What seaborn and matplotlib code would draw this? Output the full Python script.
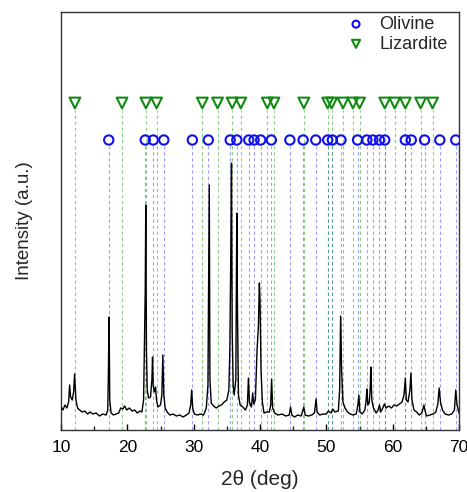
"""XRD pattern with Olivine / Lizardite reference positions."""

import matplotlib

matplotlib.use("Agg")
import matplotlib.pyplot as plt
import pandas as pd
import seaborn as sns
from matplotlib.ticker import MultipleLocator

sns.set_theme(style="ticks")
plt.rcParams["font.family"] = ["Liberation Sans", "DejaVu Sans"]

two_theta = [
    10.0, 10.3, 10.6, 10.9, 11.15, 11.3, 11.45, 11.7, 11.9, 12.05, 12.25, 12.5,
    12.8, 13.2, 13.6, 14.0, 14.4, 14.8, 15.3, 15.8, 16.3, 16.8, 17.05, 17.15,
    17.25, 17.35, 17.55, 17.9, 18.3, 18.7, 19.0, 19.3, 19.6, 19.9, 20.3, 20.7,
    21.1, 21.5, 21.9, 22.2, 22.45, 22.6, 22.7, 22.78, 22.88, 23.0, 23.2, 23.5,
    23.7, 23.8, 23.9, 24.05, 24.25, 24.4, 24.6, 25.0, 25.2, 25.35, 25.5, 25.7,
    26.0, 26.4, 26.9, 27.4, 27.9, 28.4, 28.9, 29.3, 29.55, 29.7, 29.85, 30.1,
    30.6, 31.0, 31.5, 31.9, 32.15, 32.25, 32.35, 32.45, 32.65, 33.0, 33.4, 33.8,
    34.2, 34.6, 35.0, 35.3, 35.45, 35.6, 35.7, 35.8, 35.95, 36.1, 36.35, 36.5,
    36.6, 36.75, 37.0, 37.4, 37.8, 38.1, 38.25, 38.4, 38.7, 38.9, 39.05, 39.3,
    39.55, 39.75, 39.9, 40.0, 40.15, 40.35, 40.6, 41.0, 41.4, 41.6, 41.75, 41.9,
    42.2, 42.7, 43.3, 43.9, 44.4, 44.6, 44.8, 45.2, 45.7, 46.2, 46.6, 46.8,
    47.3, 47.8, 48.2, 48.45, 48.6, 49.0, 49.5, 50.0, 50.3, 50.7, 50.95, 51.3,
    51.8, 52.0, 52.15, 52.3, 52.5, 52.8, 53.2, 53.6, 54.0, 54.5, 54.75, 54.9,
    55.05, 55.4, 55.8, 56.0, 56.1, 56.25, 56.45, 56.6, 56.7, 56.85, 57.1, 57.5,
    57.8, 58.0, 58.2, 58.5, 58.75, 59.0, 59.4, 59.8, 60.2, 60.6, 61.0, 61.4,
    61.7, 61.9, 62.05, 62.3, 62.6, 62.75, 62.9, 63.2, 63.6, 64.0, 64.4, 64.7,
    64.85, 65.1, 65.6, 66.1, 66.5, 66.8, 67.0, 67.2, 67.5, 67.9, 68.4, 68.9,
    69.3, 69.5, 69.7, 70.0,
]
intensity = [
    23, 20, 25, 22, 28, 45, 33, 30, 38, 56, 30, 22,
    20, 18, 19, 16, 18, 16, 17, 14, 16, 15, 20, 60,
    113, 30, 17, 15, 16, 17, 22, 21, 24, 20, 22, 19,
    20, 17, 19, 18, 30, 100, 140, 225, 80, 40, 32, 33,
    50, 73, 45, 38, 43, 30, 23, 25, 35, 75, 35, 22,
    18, 15, 16, 14, 15, 13, 15, 17, 25, 40, 22, 16,
    15, 16, 15, 22, 45, 140, 245, 50, 27, 24, 22, 24,
    25, 28, 30, 40, 80, 180, 267, 100, 45, 35, 50, 217,
    120, 35, 25, 23, 20, 25, 52, 28, 23, 37, 26, 30,
    80, 103, 147, 130, 60, 28, 17, 18, 18, 25, 51, 22,
    17, 15, 16, 14, 15, 23, 15, 13, 15, 14, 23, 15,
    14, 15, 17, 31, 18, 15, 16, 16, 19, 17, 21, 18,
    19, 40, 114, 60, 28, 22, 18, 16, 15, 16, 25, 35,
    18, 16, 20, 30, 41, 25, 27, 40, 63, 30, 22, 17,
    20, 25, 18, 22, 26, 22, 24, 22, 25, 24, 26, 28,
    35, 52, 30, 28, 40, 57, 30, 20, 18, 15, 17, 25,
    20, 14, 15, 16, 18, 26, 42, 28, 20, 16, 15, 16,
    20, 40, 25, 17,
]

# reference peak positions (2theta)
olivine_pos = [
    17.2, 22.7, 23.9, 25.5, 29.8, 32.2, 35.5, 36.5, 38.3, 39.1, 40.1, 41.7,
    44.5, 46.5, 48.4, 50.2, 50.9, 52.2, 54.7, 56.1, 57.0, 58.0, 58.8, 61.9,
    62.8, 64.8, 67.1, 69.5,
]
lizardite_pos = [
    12.1, 19.2, 22.8, 24.4, 31.3, 33.6, 35.8, 37.1, 41.1, 42.1, 46.6, 50.2,
    50.8, 52.5, 54.0, 55.0, 58.8, 60.3, 61.9, 64.2, 66.0,
]
olivine_level = 290
lizardite_level = 327

pattern = pd.DataFrame({"two_theta": two_theta, "intensity": intensity})

fig = plt.figure(figsize=(4.67, 4.92), dpi=100)
ax = fig.add_axes([0.1306, 0.126, 0.8524, 0.8496])

ax.vlines(olivine_pos, 0, olivine_level - 6, colors="#3a3aff", linestyles=(0, (3, 2.5)),
          linewidth=0.8, alpha=0.5, zorder=1)
ax.vlines(lizardite_pos, 0, lizardite_level - 7, colors="#1a9a1a", linestyles=(0, (3, 2.5)),
          linewidth=0.8, alpha=0.5, zorder=1)

sns.lineplot(data=pattern, x="two_theta", y="intensity", color="black", linewidth=1.0,
             ax=ax, zorder=3)

sns.scatterplot(x=olivine_pos, y=[olivine_level] * len(olivine_pos), marker="o", s=45,
                facecolor="none", edgecolor="#1010ee", linewidth=1.5, ax=ax, zorder=4,
                label="Olivine")
sns.scatterplot(x=lizardite_pos, y=[lizardite_level] * len(lizardite_pos), marker="v", s=60,
                facecolor="none", edgecolor="#108a10", linewidth=1.5, ax=ax, zorder=4,
                label="Lizardite")

ax.set_xlim(10, 70)
ax.set_ylim(0, 418)
ax.xaxis.set_major_locator(MultipleLocator(10))
ax.xaxis.set_minor_locator(MultipleLocator(5))
ax.set_yticks([])
ax.tick_params(axis="x", which="major", direction="in", length=4, width=1, labelsize=12.5,
               pad=7, colors="black")
ax.tick_params(axis="x", which="minor", direction="in", length=3, width=1)
for side in ax.spines.values():
    side.set_linewidth(1.0)
    side.set_color("#333333")

ax.set_xlabel("2θ (deg)", fontsize=15, labelpad=11)
ax.set_ylabel("Intensity (a.u.)", fontsize=13.5, labelpad=20)

ax.legend(loc="upper right", frameon=False, fontsize=13, handletextpad=0.3,
          borderaxespad=0.0, labelspacing=0.15, markerscale=0.75,
          bbox_to_anchor=(0.99, 1.008))

fig.savefig("out.png", dpi=100)
plt.close(fig)
